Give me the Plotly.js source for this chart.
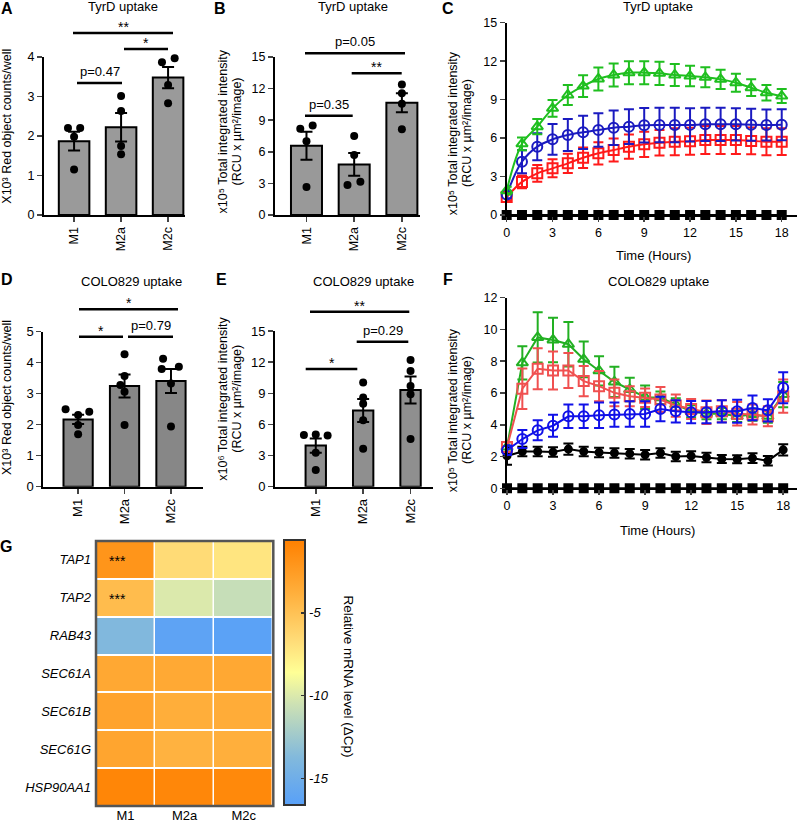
<!DOCTYPE html>
<html><head><meta charset="utf-8">
<script src="https://cdn.plot.ly/plotly-3.0.1.min.js"></script>
<style>html,body{margin:0;padding:0;background:#fff}</style>
</head><body><div id="chart" style="width:797px;height:823px"></div>
<script>
// ---------------- DATA ----------------
const groups = ['M1', 'M2a', 'M2c'];

// A: TyrD uptake, red object counts (x10^3)
const aMeans = [1.87, 2.22, 3.48];
const aSem = [0.24, 0.36, 0.27];
const aM1 = [2.2, 2.2, 1.98, 1.15];
const aM2a = [3.01, 2.63, 1.75, 1.54];
const aM2c = [3.87, 3.97, 3.29, 2.83];

// B: TyrD uptake, total integrated intensity (x10^5)
const bMeans = [6.57, 4.8, 10.66];
const bSem = [1.33, 1.08, 0.9];
const bM1 = [8.2, 8.5, 7.0, 2.66];
const bM2a = [7.5, 5.7, 2.85, 3.16];
const bM2c = [12.4, 11.55, 10.57, 8.13];

// D: COLO829 uptake, red object counts (x10^3)
const dMeans = [2.17, 3.25, 3.41];
const dSem = [0.15, 0.37, 0.39];
const dM1 = [2.5, 2.31, 2.42, 1.99, 1.69];
const dM2a = [4.27, 3.57, 3.28, 3.06, 1.99];
const dM2c = [4.13, 3.8, 3.87, 3.33, 1.94];

// E: COLO829 uptake, total integrated intensity (x10^6)
const eMeans = [3.96, 7.34, 9.31];
const eSem = [0.68, 1.1, 1.3];
const eM1 = [4.98, 5.04, 4.94, 3.28, 1.61];
const eM2a = [10.05, 8.6, 8.0, 6.4, 3.65];
const eM2c = [12.2, 11.15, 9.7, 8.9, 4.6];

// C / F time courses
const hours = [0,1,2,3,4,5,6,7,8,9,10,11,12,13,14,15,16,17,18];

const cGreen = [1.9, 5.55, 6.89, 8.32, 9.36, 10.06, 10.61, 10.92, 11.1, 11.1, 11.05, 10.92, 10.84, 10.74, 10.58, 10.32, 9.93, 9.54, 9.28];
const cGreenErr = [0.3, 0.5, 0.6, 0.65, 0.78, 0.85, 0.9, 0.9, 0.9, 0.9, 0.9, 0.85, 0.8, 0.78, 0.75, 0.7, 0.65, 0.6, 0.55];
const cBlue = [1.6, 4.16, 5.33, 5.9, 6.24, 6.45, 6.63, 6.81, 6.89, 7.0, 7.02, 7.02, 7.03, 7.07, 7.07, 7.07, 7.04, 7.02, 7.04];
const cBlueErr = [0.3, 0.9, 1.05, 1.2, 1.25, 1.3, 1.3, 1.35, 1.35, 1.35, 1.35, 1.35, 1.3, 1.3, 1.3, 1.25, 1.25, 1.2, 1.2];
const cRed = [1.4, 2.58, 3.25, 3.64, 4.03, 4.47, 4.81, 5.07, 5.33, 5.51, 5.64, 5.72, 5.75, 5.85, 5.85, 5.85, 5.78, 5.72, 5.72];
const cRedErr = [0.25, 0.5, 0.65, 0.7, 0.75, 0.8, 0.87, 0.9, 0.95, 0.98, 1.0, 1.05, 1.05, 1.1, 1.1, 1.1, 1.05, 1.05, 1.04];
const cBlack = [0,0,0,0,0,0,0,0,0,0,0,0,0,0,0,0,0,0,0];

const fGreen = [2.6, 7.9, 9.5, 9.34, 9.07, 8.12, 7.4, 6.7, 6.22, 5.74, 5.7, 5.27, 4.85, 4.7, 4.7, 4.53, 4.64, 4.53, 5.9];
const fGreenErr = [0.3, 1.05, 1.58, 1.4, 1.4, 1.13, 0.92, 0.95, 0.74, 0.74, 0.4, 0.4, 0.38, 0.35, 0.35, 0.35, 0.38, 0.4, 0.8];
const fRed = [2.6, 6.27, 7.53, 7.42, 7.42, 6.75, 6.43, 6.01, 5.8, 5.7, 5.59, 5.21, 5.0, 4.79, 4.85, 4.7, 4.64, 4.53, 5.8];
const fRedErr = [0.3, 1.27, 1.29, 1.2, 1.1, 0.95, 0.95, 0.84, 0.63, 0.58, 0.79, 0.7, 0.63, 0.74, 0.69, 0.74, 0.63, 0.63, 1.05];
const fBlue = [2.4, 3.1, 3.65, 3.94, 4.53, 4.53, 4.6, 4.64, 4.68, 4.68, 4.99, 4.85, 4.79, 4.79, 4.85, 4.85, 5.06, 4.91, 6.33];
const fBlueErr = [0.3, 0.57, 0.63, 0.69, 0.74, 0.74, 0.8, 0.76, 0.8, 0.8, 0.77, 0.7, 0.7, 0.7, 0.7, 0.72, 0.78, 0.7, 0.97];
const fBlack = [2.04, 2.32, 2.32, 2.28, 2.47, 2.32, 2.26, 2.22, 2.18, 2.11, 2.22, 2.0, 2.04, 1.94, 1.85, 1.83, 1.9, 1.73, 2.42];
const fBlackErr = [0.55, 0.3, 0.3, 0.3, 0.35, 0.3, 0.3, 0.3, 0.3, 0.3, 0.3, 0.3, 0.3, 0.3, 0.25, 0.25, 0.3, 0.3, 0.35];
const fZero = [0,0,0,0,0,0,0,0,0,0,0,0,0,0,0,0,0,0,0];

// G heatmap: relative mRNA level (ΔCp)
const genes = ['TAP1', 'TAP2', 'RAB43', 'SEC61A', 'SEC61B', 'SEC61G', 'HSP90AA1'];
const gTAP1 = [-2.0, -6.6, -7.2];
const gTAP2 = [-4.6, -10.0, -10.8];
const gRAB43 = [-13.8, -16.2, -16.4];
const gSEC61A = [-3.3, -3.4, -3.3];
const gSEC61B = [-3.0, -3.7, -3.6];
const gSEC61G = [-3.1, -4.0, -3.8];
const gHSP90AA1 = [-1.0, -1.1, -1.2];

// ---------------- LAYOUT HELPERS ----------------
const W = 797, H = 823;
const px = x => x / W;
const py = y => 1 - y / H;
const FONT = 'Liberation Sans, Arial, sans-serif';

const traces = [];
const layout = {
  width: W, height: H, margin: {l: 0, r: 0, t: 0, b: 0, pad: 0},
  paper_bgcolor: '#fff', plot_bgcolor: 'rgba(0,0,0,0)', showlegend: false,
  font: {family: FONT, color: '#000', size: 12},
  annotations: [], shapes: []
};

function ax(n, c) { return n === 1 ? c : c + n; }
function axKey(n, c) { return n === 1 ? c + 'axis' : c + 'axis' + n; }

function barPanel(n, dom, xr, yr, dtick, means, sems, pts, offs, color, bw, tfs) {
  const xa = ax(n, 'x'), ya = ax(n, 'y');
  traces.push({type: 'bar', x: [0, 1, 2], y: means, width: bw, xaxis: xa, yaxis: ya,
    marker: {color: color, line: {color: '#000', width: 2}},
    error_y: {type: 'data', array: sems, visible: true, color: '#000', thickness: 2, width: 6}});
  const xs = [], ys = [];
  pts.forEach((g, i) => g.forEach((v, j) => { xs.push(i + offs[i][j]); ys.push(v); }));
  traces.push({type: 'scatter', mode: 'markers', x: xs, y: ys, xaxis: xa, yaxis: ya, cliponaxis: false,
    marker: {color: '#000', size: 8}});
  layout[axKey(n, 'x')] = {domain: [px(dom[0]), px(dom[1])], range: xr, anchor: ya,
    tickvals: [0, 1, 2], ticktext: groups, tickangle: -90, ticks: 'outside', ticklen: 5, tickwidth: 1.5,
    showline: true, linewidth: 2, linecolor: '#000', showgrid: false, zeroline: false,
    tickfont: {size: tfs, color: '#000'}, fixedrange: true};
  layout[axKey(n, 'y')] = {domain: [py(dom[2]), py(dom[3])], range: yr, anchor: xa,
    tick0: 0, dtick: dtick, ticks: 'outside', ticklen: 5, tickwidth: 1.5,
    showline: true, linewidth: 2, linecolor: '#000', showgrid: false, zeroline: false,
    tickfont: {size: tfs, color: '#000'}, fixedrange: true};
}

function lineTrace(n, y, err, color, symbol, size, shape) {
  const t = {type: 'scatter', mode: 'lines+markers', x: hours, y: y, xaxis: ax(n, 'x'), yaxis: ax(n, 'y'),
    cliponaxis: false, line: {color: color, width: 2, shape: shape},
    marker: {symbol: symbol, size: size, color: color, line: {color: color, width: 2}}};
  if (err) t.error_y = {type: 'data', array: err, visible: true, color: color, thickness: 2, width: 5};
  return t;
}

function linePanel(n, dom, xr, yr, dtick) {
  const xa = ax(n, 'x'), ya = ax(n, 'y');
  layout[axKey(n, 'x')] = {domain: [px(dom[0]), px(dom[1])], range: xr, anchor: ya,
    tick0: 0, dtick: 3, ticks: 'outside', ticklen: 5, tickwidth: 1.5,
    showline: true, linewidth: 2, linecolor: '#000', showgrid: false, zeroline: false,
    tickfont: {size: 12.5, color: '#000'}, fixedrange: true};
  layout[axKey(n, 'y')] = {domain: [py(dom[2]), py(dom[3])], range: yr, anchor: xa,
    tick0: 0, dtick: dtick, ticks: 'outside', ticklen: 5, tickwidth: 1.5,
    showline: true, linewidth: 2, linecolor: '#000', showgrid: false, zeroline: false,
    tickfont: {size: 12.5, color: '#000'}, fixedrange: true};
}

function txt(x, y, text, size, opts) {
  layout.annotations.push(Object.assign({xref: 'paper', yref: 'paper', x: px(x), y: py(y), text: text,
    showarrow: false, font: {size: size, color: '#000', family: FONT}, xanchor: 'center', yanchor: 'middle'}, opts || {}));
}
function sig(x0, x1, y, text) {
  layout.shapes.push({type: 'line', xref: 'paper', yref: 'paper', x0: px(x0), x1: px(x1), y0: py(y), y1: py(y),
    line: {color: '#000', width: 2.5}});
  const isStar = text.indexOf('*') === 0;
  txt((x0 + x1) / 2, isStar ? y + 4 : y - 2, text, isStar ? 14 : 13, {yanchor: 'bottom'});
}

// ---------------- PANELS ----------------
// A
barPanel(1, [44, 185, 215, 57], [-0.64, 2.36], [0, 4], 1, aMeans, aSem,
  [aM1, aM2a, aM2c], [[-0.13, 0.13, 0, 0], [0, 0, 0, 0], [-0.13, 0.14, 0, 0]], '#9a9a9a', 0.65, 12.5);
// B
barPanel(2, [275, 420, 215, 57], [-0.66, 2.38], [0, 15], 3, bMeans, bSem,
  [bM1, bM2a, bM2c], [[-0.13, 0.13, 0, 0], [0, 0, -0.14, 0.13], [0, 0, 0, 0]], '#999999', 0.65, 12.5);
// D
barPanel(4, [43.3, 203, 486.7, 331.7], [-0.75, 2.69], [0, 5], 1, dMeans, dSem,
  [dM1, dM2a, dM2c], [[-0.27, 0, 0.24, 0, 0], [0, 0, -0.09, 0, 0], [-0.17, -0.2, 0.17, 0, 0]], '#878787', 0.63, 13);
// E
barPanel(5, [275, 433.3, 486.7, 331], [-0.86, 2.48], [0, 15], 3, eMeans, eSem,
  [eM1, eM2a, eM2c], [[-0.25, 0, 0.25, 0, 0], [0, 0, 0, 0, 0], [0, 0, 0, 0, 0]], '#8f8f8f', 0.43, 13);

// C
linePanel(3, [506.7, 797, 215, 22.7], [0, 19], [0, 15], 3);
traces.push(lineTrace(3, cBlack, null, '#000', 'square', 8, 'linear'));
traces.push(lineTrace(3, cRed, cRedErr, '#ff1a1a', 'square-open', 10, 'spline'));
traces.push(lineTrace(3, cBlue, cBlueErr, '#1a1ac0', 'circle-open', 10, 'spline'));
traces.push(lineTrace(3, cGreen, cGreenErr, '#1fbf1f', 'triangle-up-open', 10, 'spline'));

// F
linePanel(6, [507, 797, 488.3, 297.7], [0, 18.9], [0, 12], 2);
traces.push(lineTrace(6, fZero, null, '#000', 'square', 8, 'linear'));
traces.push(lineTrace(6, fBlack, fBlackErr, '#000', 'circle', 7, 'linear'));
traces.push(lineTrace(6, fGreen, fGreenErr, '#22b022', 'triangle-up-open', 10, 'linear'));
traces.push(lineTrace(6, fRed, fRedErr, '#f05050', 'square-open', 10, 'linear'));
traces.push(lineTrace(6, fBlue, fBlueErr, '#1010e8', 'circle-open', 10, 'linear'));

// G heatmap
const gZ = [gTAP1, gTAP2, gRAB43, gSEC61A, gSEC61B, gSEC61G, gHSP90AA1];
traces.push({type: 'heatmap', x: groups, y: genes, z: gZ, xaxis: 'x7', yaxis: 'y7',
  zmin: -16.6, zmax: -0.6, xgap: 1.5, ygap: 2,
  colorscale: [[0, 'rgb(88,160,248)'], [0.18, 'rgb(130,185,220)'], [0.38, 'rgb(205,225,180)'],
    [0.5, 'rgb(255,255,150)'], [0.62, 'rgb(255,220,120)'], [0.8, 'rgb(255,175,60)'], [1, 'rgb(255,128,0)']],
  colorbar: {x: px(284.3), xanchor: 'left', xref: 'paper', y: py(540), yanchor: 'top', yref: 'paper',
    len: 265, lenmode: 'pixels', thickness: 21, thicknessmode: 'pixels', xpad: 0, ypad: 0,
    outlinewidth: 2, outlinecolor: '#333', tickvals: [-15, -10, -5], ticktext: ['-15', '-10', '-5'],
    ticks: 'inside', ticklen: 5, tickwidth: 1.5, tickcolor: '#333',
    tickfont: {size: 13, style: 'italic', color: '#000', family: FONT}}});
layout.xaxis7 = {domain: [px(96), px(273.3)], anchor: 'y7', ticks: '', showline: false, showgrid: false,
  zeroline: false, tickfont: {size: 13, color: '#000'}, fixedrange: true};
layout.yaxis7 = {domain: [py(806), py(541)], anchor: 'x7', autorange: 'reversed', ticks: '', showline: false,
  showgrid: false, zeroline: false, ticklabelstandoff: 4, tickfont: {size: 13, style: 'italic', color: '#000'}, fixedrange: true};
layout.shapes.push({type: 'rect', xref: 'paper', yref: 'paper', x0: px(96), x1: px(273.3), y0: py(806), y1: py(541),
  line: {color: '#555', width: 2.5}});
txt(117.5, 561, '***', 14);
txt(117.5, 599, '***', 14);
txt(348.3, 676.7, 'Relative mRNA level (ΔCp)', 13.5, {textangle: 90});

// ---------------- TEXT ----------------
// panel letters
txt(7.5, 9, '<b>A</b>', 16);
txt(220, 9, '<b>B</b>', 16);
txt(447.5, 9, '<b>C</b>', 16);
txt(7.5, 279, '<b>D</b>', 16);
txt(221.7, 279, '<b>E</b>', 16);
txt(447.5, 279, '<b>F</b>', 16);
txt(6, 546, '<b>G</b>', 16);

// titles
txt(122.8, 7, 'TyrD uptake', 13);
txt(353.3, 7, 'TyrD uptake', 13);
txt(657.7, 7, 'TyrD uptake', 13);
txt(131.7, 281, 'COLO829 uptake', 13);
txt(363.3, 281, 'COLO829 uptake', 13);
txt(658.5, 281, 'COLO829 uptake', 13);
txt(653, 255, 'Time (Hours)', 13);
txt(657.8, 530, 'Time (Hours)', 13);

// y-axis titles
txt(7, 126.7, 'X10³ Red object counts/well', 12.5, {textangle: -90});
txt(222.7, 131.7, 'x10⁵ Total integrated intensity', 12.5, {textangle: -90});
txt(236.7, 131.7, '(RCU x µm²/image)', 12.5, {textangle: -90});
txt(453.3, 133, 'x10⁵ Total integrated intensity', 12.5, {textangle: -90});
txt(467, 133, '(RCU x µm²/image)', 12.5, {textangle: -90});
txt(7, 398, 'X10³ Red object counts/well', 12.5, {textangle: -90});
txt(222.7, 399, 'x10⁶ Total integrated intensity', 12.5, {textangle: -90});
txt(236.7, 399, '(RCU x µm²/image)', 12.5, {textangle: -90});
txt(453.3, 410, 'x10⁵ Total integrated intensity', 12.5, {textangle: -90});
txt(467, 410, '(RCU x µm²/image)', 12.5, {textangle: -90});

// significance bars
sig(73, 173, 33, '**');
sig(124, 168, 49, '*');
sig(77, 122, 83, 'p=0.47');
sig(305, 405, 53.3, 'p=0.05');
sig(351.7, 401.7, 73.3, '**');
sig(305, 352.7, 115.7, 'p=0.35');
sig(79, 178, 309.3, '*');
sig(79, 123, 336.7, '*');
sig(128, 173, 336.7, 'p=0.79');
sig(310, 409.3, 311.7, '**');
sig(356.7, 408.3, 341.7, 'p=0.29');
sig(305.7, 357.3, 369, '*');

Plotly.newPlot('chart', traces, layout, {displayModeBar: false, staticPlot: true});
</script>
</body></html>
